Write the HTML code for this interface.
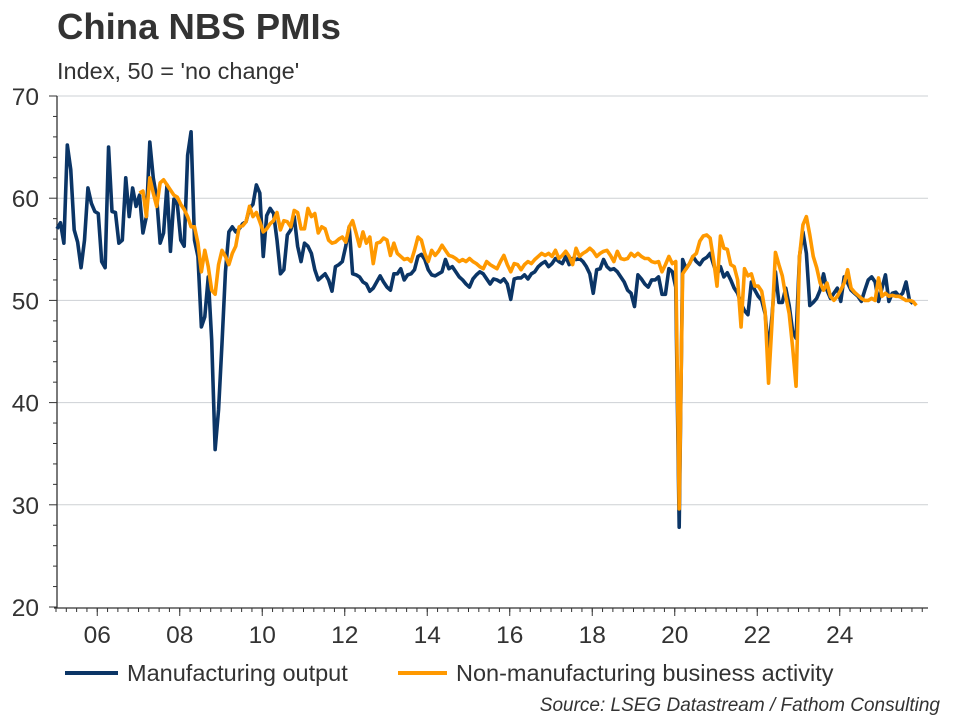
<!DOCTYPE html>
<html><head><meta charset="utf-8"><style>
body{margin:0;background:#fff;width:960px;height:720px;overflow:hidden;font-family:"Liberation Sans",Arial,sans-serif}
svg{display:block}
</style></head><body>
<svg id="chart" width="960" height="720">
<text x="57" y="39" font-size="36.5" font-weight="bold" fill="#333">China NBS PMIs</text>
<text x="57" y="79" font-size="23.5" fill="#333">Index, 50 = 'no change'</text>
<g id="grid"></g><g id="axes"></g><g id="series"></g>
<g>
<line x1="65" y1="673" x2="118" y2="673" stroke="#0b3566" stroke-width="4"/>
<text x="127" y="681" font-size="23.5" fill="#333">Manufacturing output</text>
<line x1="398" y1="673" x2="447" y2="673" stroke="#ff9900" stroke-width="4"/>
<text x="456" y="681" font-size="23.5" fill="#333">Non-manufacturing business activity</text>
</g>
<text x="940" y="711" font-size="19" font-style="italic" fill="#333" text-anchor="end">Source: LSEG Datastream / Fathom Consulting</text>
</svg>
<script>
const startYear = 2005;
const yTicks = [20,30,40,50,60,70];
const xTickLabels = ["06","08","10","12","14","16","18","20","22","24"];
const xTickYears = [2006,2008,2010,2012,2014,2016,2018,2020,2022,2024];
const mfgStartMonth = 0;
const mfgValues = [57.0,57.6,55.6,65.2,62.8,56.9,55.7,53.2,55.9,61.0,59.5,
58.7,58.5,53.8,53.2,65.0,58.7,58.6,55.6,55.9,62.0,
58.2,61.0,59.2,60.3,56.6,58.2,65.5,62.0,60.0,55.6,
56.6,61.3,54.8,59.9,59.4,55.9,55.3,64.2,66.5,55.9,
54.3,47.4,48.4,52.3,46.1,35.4,39.3,45.8,52.8,56.7,
57.2,56.7,57.0,57.5,57.7,59.0,59.4,61.3,60.5,54.3,
58.3,59.0,58.5,55.9,52.6,53.0,56.4,56.9,58.2,55.3,
53.8,55.6,55.3,54.6,53.0,52.0,52.3,52.6,52.0,50.9,
53.3,53.5,53.8,55.3,57.2,52.6,52.5,
52.3,51.8,51.6,50.9,51.2,51.8,52.4,51.8,51.3,51.0,
52.6,52.6,53.1,52.0,52.5,52.6,53.0,54.3,54.5,54.0,
53.0,52.5,52.4,52.6,52.8,54.0,53.1,53.3,52.8,
52.3,52.0,51.6,51.3,52.1,52.5,52.8,52.6,52.1,
51.6,52.1,52.0,51.8,52.1,51.6,50.1,52.1,52.2,52.2,
52.5,52.1,52.6,52.8,53.3,53.6,53.8,53.3,53.6,54.1,
53.8,53.6,54.3,53.5,54.1,54.0,54.1,53.8,53.3,
52.6,50.7,53.0,53.1,54.0,53.3,53.0,53.1,52.8,52.3,
51.8,51.0,50.7,49.4,52.5,52.1,51.6,51.3,52.0,52.0,
52.3,50.6,50.6,53.1,52.8,51.3,27.8,54.0,53.1,53.6,
54.3,53.8,53.5,54.0,54.2,54.6,53.5,52.5,53.3,52.3,
52.7,52.0,51.2,50.7,49.7,49.0,48.6,51.8,51.0,50.4,
50.0,48.7,45.0,48.5,52.8,49.8,49.8,51.2,49.5,47.0,46.3,
54.3,56.7,54.6,49.5,49.8,50.2,51.0,52.6,51.0,50.2,
50.7,51.2,49.9,52.3,51.7,51.0,50.7,50.4,49.9,51.0,
52.0,52.3,51.8,49.9,51.2,52.5,49.9,50.7,50.8,50.4,
50.7,51.8,50.0,49.7];
const nonMfgStartMonth = 24;
const nonMfgValues = [60.5,60.7,58.2,62.0,60.5,59.2,61.5,61.8,61.3,60.8,
60.3,60.1,59.4,58.9,58.2,57.2,57.2,55.6,52.8,54.9,
53.3,51.0,50.6,53.5,54.9,54.3,53.5,54.6,55.3,57.2,
57.3,57.7,59.2,58.2,58.6,57.7,56.7,57.0,57.5,57.8,
58.6,56.9,57.8,57.7,57.2,58.8,58.6,57.0,57.0,59.0,
58.2,58.5,56.6,57.2,57.0,55.9,55.6,55.7,56.0,56.2,
55.7,57.2,57.8,56.6,
55.3,56.7,55.6,56.2,53.6,55.6,55.7,56.1,55.9,54.4,
55.6,54.6,54.3,54.0,54.1,53.8,54.9,56.2,55.9,54.6,
53.8,54.9,54.4,54.8,55.4,54.9,54.4,54.3,54.1,53.8,
54.0,53.8,54.1,53.8,53.6,53.3,53.1,53.8,53.5,
53.3,53.1,53.8,54.4,53.5,52.8,53.6,53.5,53.0,
53.5,53.8,53.6,54.0,54.3,54.6,54.4,54.6,54.3,54.9,
54.1,54.4,54.8,54.3,53.5,55.1,54.3,54.6,54.8,55.1,
54.8,54.3,54.6,54.8,54.9,54.4,53.8,54.8,54.1,
54.0,54.1,54.6,54.3,54.6,54.3,54.1,54.1,53.8,53.7,
53.8,52.8,53.5,54.3,53.6,53.8,29.6,52.6,53.1,53.6,
54.3,54.6,55.8,56.3,56.4,56.1,54.0,51.4,56.3,55.1,
55.0,53.5,53.3,52.0,47.4,53.1,52.4,52.6,51.4,51.4,
50.9,48.9,41.9,47.8,54.7,53.5,52.4,50.4,48.7,45.4,41.6,
54.3,57.4,58.2,56.4,54.3,53.2,51.7,51.0,51.7,50.4,
50.0,50.4,51.0,51.7,53.0,51.2,50.8,50.5,50.2,50.0,
50.0,50.2,50.0,52.2,50.4,50.7,50.4,50.5,50.4,50.4,
50.2,50.0,50.0,49.9,49.5];

const NS='http://www.w3.org/2000/svg';
const X0=57, X1=928, Y0=96, Y1=608;
const pxPerYear=41.25;
function xYear(yr){return 56+(yr-startYear)*pxPerYear;}
function xMonth(m){return 57+m*pxPerYear/12;}
function yVal(v){return 607-(v-20)*10.22;}
function mk(tag,attrs,parent){const e=document.createElementNS(NS,tag);for(const k in attrs)e.setAttribute(k,attrs[k]);parent.appendChild(e);return e;}

const grid=document.getElementById('grid');
const axes=document.getElementById('axes');
yTicks.forEach(t=>{
  const y=yVal(t);
  if(t>20){const gl=mk('line',{x1:X0,x2:X1,y1:y,y2:y,stroke:'#cdd1d4','stroke-width':1},grid);
  
  }
  const tk=mk('line',{x1:49,x2:X0,y1:y,y2:y,stroke:'#333','stroke-width':1},axes);
  
  
  const lb=mk('text',{x:39,y:y+9,'font-size':24.5,fill:'#333','text-anchor':'end'},axes);
  lb.textContent=t;
  
  
});
for(let v=22;v<70;v+=2){ if(v%10===0)continue; const y=yVal(v);
  const mt=mk('line',{x1:53,x2:X0,y1:y,y2:y,stroke:'#333','stroke-width':1},axes);
  
  }
const ya=mk('line',{x1:X0,x2:X0,y1:Y0,y2:Y1,stroke:'#333','stroke-width':1.3},axes);


const xa=mk('line',{x1:X0-3,x2:X1,y1:Y1,y2:Y1,stroke:'#333','stroke-width':1.3},axes);


for(let q=0;q<=84;q++){const x=xYear(startYear+q/4); if(x>X1)break;
  const mt=mk('line',{x1:x,x2:x,y1:Y1,y2:Y1+4,stroke:'#333','stroke-width':1},axes);
  
  }
xTickYears.forEach((yr,i)=>{const x=xYear(yr);
  const tk=mk('line',{x1:x,x2:x,y1:Y1,y2:Y1+8,stroke:'#333','stroke-width':1},axes);
  
  
  const lb=mk('text',{x:x,y:643,'font-size':24.5,fill:'#333','text-anchor':'middle'},axes);
  lb.textContent=xTickLabels[i];
  
  });

const series=document.getElementById('series');
function pts(vals,start){return vals.map((v,i)=>xMonth(start+i).toFixed(2)+','+yVal(v).toFixed(2)).join(' ');}
const l1=mk('polyline',{points:pts(mfgValues,mfgStartMonth),fill:'none',stroke:'#0b3566','stroke-width':3.6,'stroke-linejoin':'round'},series);


const l2=mk('polyline',{points:pts(nonMfgValues,nonMfgStartMonth),fill:'none',stroke:'#ff9900','stroke-width':3.6,'stroke-linejoin':'round'},series);


</script>
</body></html>
